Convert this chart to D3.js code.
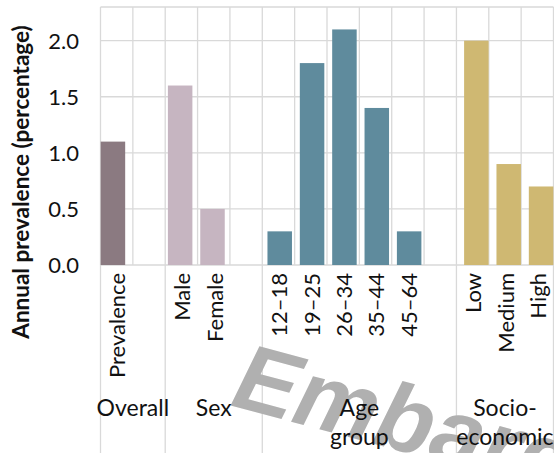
<!DOCTYPE html>
<html><head><meta charset="utf-8">
<script src="https://cdn.jsdelivr.net/npm/d3@7"></script>
<style>html,body{margin:0;padding:0;background:#fff;overflow:hidden}</style>
</head><body>
<svg id="c" width="554" height="453"></svg>
<script>
// ---- data ----
const slots = ["Prevalence","gap0","Male","Female","gap1","12–18","19–25","26–34","35–44","45–64","gap2","Low","Medium","High"];
const categories = ["Prevalence","Male","Female","12–18","19–25","26–34","35–44","45–64","Low","Medium","High"];
const values = [1.1, 1.6, 0.5, 0.3, 1.8, 2.1, 1.4, 0.3, 2.0, 0.9, 0.7];
const groupOf = ["Overall","Sex","Sex","Age","Age","Age","Age","Age","SES","SES","SES"];
const groups = ["Overall","Sex","Age","SES"];
const groupSlots = [["Prevalence","gap0"],["Male","Female","gap1"],["12–18","19–25","26–34","35–44","45–64","gap2"],["Low","Medium","High"]];
const groupLabels = [["Overall"],["Sex"],["Age","group"],["Socio-","economic"]];
const yTicks = [0, 0.5, 1.0, 1.5, 2.0];
const colors = {Overall:"#8b7a81", Sex:"#c6b5c1", Age:"#5f8b9d", SES:"#cfb872"};

const svg = d3.select("#c");
const L = 100.5, R = 553.5, T = 7, B = 265;
const font = "Lato, 'Open Sans', sans-serif";

const x = d3.scaleBand().domain(slots).range([L, R]).padding(0);
const inner = d3.scalePoint().domain(groups).range([-3.75, 3.75]);
const y = d3.scaleLinear().domain([0, 2.3]).range([B, T]);
const barW = 24.5;
const grid = "#d9d9d9";

// horizontal grid
svg.append("g").selectAll("line").data(yTicks.concat([2.3])).join("line")
  .attr("x1", L).attr("x2", R).attr("y1", d => y(d)).attr("y2", d => y(d))
  .attr("stroke", grid).attr("stroke-width", 1.3);

// vertical grid (slot boundaries)
const bounds = slots.map(s => x(s)).concat([R]);
const groupBounds = groupSlots.map(g => x(g[0])).concat([R]);
svg.append("g").selectAll("line").data(bounds).join("line")
  .attr("x1", d => d).attr("x2", d => d).attr("y1", T).attr("y2", B)
  .attr("stroke", grid).attr("stroke-width", 1.3);
svg.append("g").selectAll("line").data(groupBounds).join("line")
  .attr("x1", d => d).attr("x2", d => d).attr("y1", B).attr("y2", 453)
  .attr("stroke", grid).attr("stroke-width", 1.3);

// bars
svg.append("g").selectAll("rect").data(categories).join("rect")
  .attr("x", (d, i) => x(d) + x.bandwidth() / 2 + inner(groupOf[i]) - barW / 2)
  .attr("width", barW)
  .attr("y", (d, i) => y(values[i]))
  .attr("height", (d, i) => y(0) - y(values[i]))
  .attr("fill", (d, i) => colors[groupOf[i]]);

// y tick labels
svg.append("g").selectAll("text").data(yTicks).join("text")
  .attr("x", 79).attr("y", d => y(d)).attr("dy", "0.36em")
  .attr("text-anchor", "end").attr("font-family", font).attr("font-size", 22)
  .attr("fill", "#111").text(d => d.toFixed(1));

// y title
svg.append("text").attr("transform", "translate(29,182) rotate(-90)")
  .attr("text-anchor", "middle").attr("font-family", font).attr("font-weight", "bold")
  .attr("font-size", 22.5).attr("fill", "#111").text("Annual prevalence (percentage)");

// watermark
svg.append("text").attr("transform", "translate(229,405) rotate(15)")
  .attr("font-family", "'Liberation Sans', Arial, sans-serif").attr("font-weight", "bold")
  .attr("font-style", "italic").attr("font-size", 94).attr("fill", "#b0b0b0")
  .text("Embargo");

// x tick labels
svg.append("g").selectAll("text").data(categories).join("text")
  .attr("transform", d => `translate(${x(d) + x.bandwidth() / 2},273) rotate(-90)`)
  .attr("dy", "0.4em").attr("text-anchor", "end")
  .attr("font-family", font).attr("font-size", 22).attr("fill", "#111").text(d => d);

// group labels
groupSlots.forEach((g, i) => {
  const cx = (groupBounds[i] + groupBounds[i + 1]) / 2;
  const t = svg.append("text").attr("text-anchor", "middle").attr("font-family", font)
    .attr("font-size", 23).attr("fill", "#111");
  groupLabels[i].forEach((line, j) => {
    t.append("tspan").attr("x", cx).attr("y", 416 + j * 29).text(line);
  });
});
</script>
</body></html>
